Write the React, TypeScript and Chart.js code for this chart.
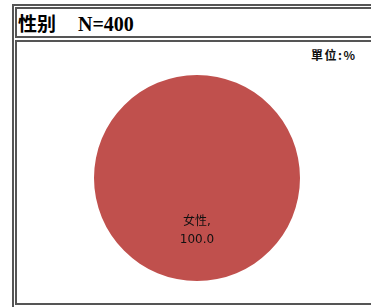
import React, { useEffect, useRef } from "react";
import { Chart, registerables } from "chart.js";

Chart.register(...registerables);

const categories = ["女性"];
const values = [100.0];
const colors = ["#C0504D"];
const titleText = "性别";
const sampleText = "N=400";
const unitText = "單位:%";

const labelPlugin = {
  id: "sliceLabels",
  afterDatasetsDraw(chart: any) {
    const ctx = chart.ctx;
    const meta = chart.getDatasetMeta(0);
    meta.data.forEach((arc: any, i: number) => {
      const p = arc.getCenterPoint();
      ctx.save();
      ctx.fillStyle = "#111";
      ctx.font = "12px 'DejaVu Sans', 'Noto Sans CJK TC', sans-serif";
      ctx.textAlign = "center";
      ctx.textBaseline = "middle";
      ctx.fillText(categories[i] + ",", p.x, p.y - 8);
      ctx.fillText(values[i].toFixed(1), p.x, p.y + 10);
      ctx.restore();
    });
  },
};

export default function App() {
  const ref = useRef<HTMLCanvasElement>(null);
  useEffect(() => {
    if (!ref.current) return;
    const chart = new Chart(ref.current, {
      type: "pie",
      data: {
        labels: categories,
        datasets: [
          {
            data: values,
            backgroundColor: colors,
            borderWidth: 0,
          },
        ],
      },
      options: {
        responsive: false,
        animation: false,
        layout: { padding: { left: 94, top: 75, right: 71, bottom: 26 } },
        plugins: {
          legend: { display: false },
          tooltip: { enabled: false },
          title: { display: false },
        },
      },
      plugins: [labelPlugin],
    });
    return () => chart.destroy();
  }, []);

  const border = "2px solid #555";
  return (
    <div
      style={{
        position: "fixed",
        left: 0,
        top: 0,
        width: 371,
        height: 307,
        overflow: "hidden",
        background: "#fff",
      }}
    >
      <div
        style={{
          position: "absolute",
          left: 12,
          top: 4,
          width: 420,
          height: 340,
          border,
          boxSizing: "border-box",
        }}
      />
      <div
        style={{
          position: "absolute",
          left: 15,
          top: 7,
          width: 420,
          height: 31,
          border,
          boxSizing: "border-box",
        }}
      />
      <div
        style={{
          position: "absolute",
          left: 15,
          top: 40,
          width: 420,
          height: 265,
          border,
          boxSizing: "border-box",
        }}
      />
      <div
        style={{
          position: "absolute",
          left: 18,
          top: 9,
          height: 27,
          lineHeight: "27px",
          whiteSpace: "nowrap",
          color: "#000",
          fontWeight: "bold",
        }}
      >
        <span style={{ fontFamily: "'Noto Sans CJK SC', sans-serif", fontSize: 19 }}>
          {titleText}
        </span>
        <span
          style={{
            fontFamily: "'Liberation Serif', serif",
            fontSize: 20,
            marginLeft: 22,
          }}
        >
          {sampleText}
        </span>
      </div>
      <div
        style={{
          position: "absolute",
          left: 311,
          top: 46,
          fontSize: 12,
          fontWeight: "bold",
          letterSpacing: 1.5,
          fontFamily: "'Noto Sans CJK TC', sans-serif",
          color: "#111",
          whiteSpace: "nowrap",
        }}
      >
        {unitText}
      </div>
      <canvas
        ref={ref}
        width={371}
        height={307}
        style={{ position: "absolute", left: 0, top: 0 }}
      />
    </div>
  );
}
